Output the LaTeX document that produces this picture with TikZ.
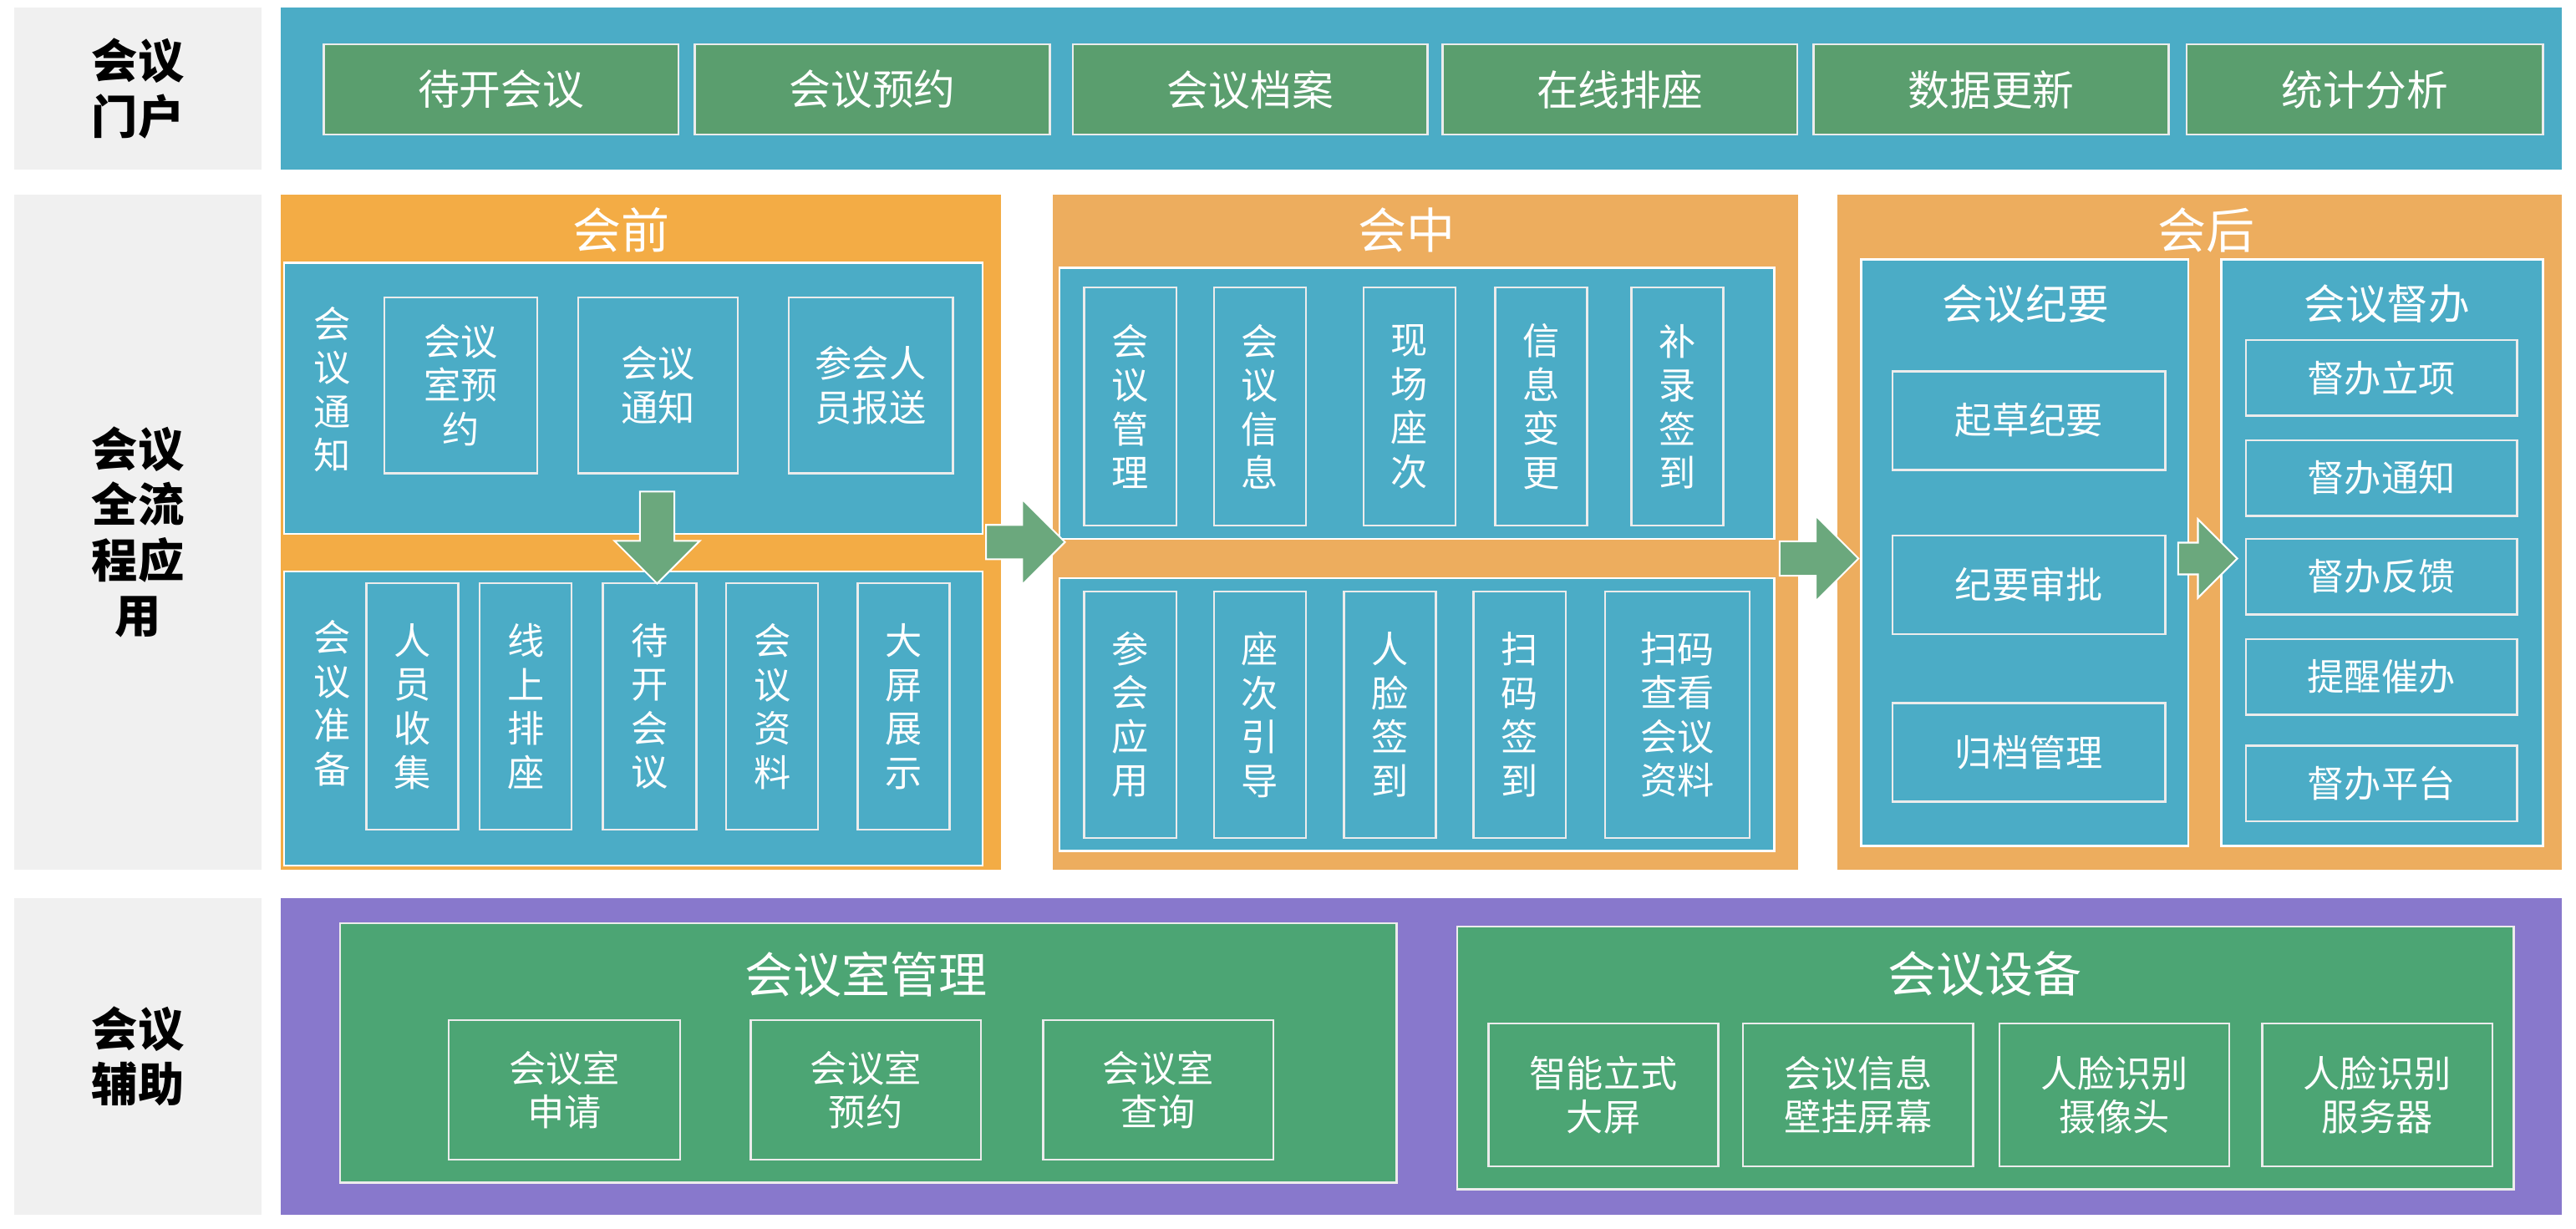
\documentclass[tikz,border=0pt]{standalone}
\usepackage{fontspec}
\setmainfont{Noto Sans CJK SC}
\usetikzlibrary{shapes.arrows}
\definecolor{lblue}{HTML}{4BACC6}
\definecolor{lgreen}{HTML}{5A9E6E}
\definecolor{dgreen}{HTML}{4CA574}
\definecolor{lorange}{HTML}{F3AC45}
\definecolor{morange}{HTML}{EDAD5E}
\definecolor{lpurple}{HTML}{8878CC}
\definecolor{lgray}{HTML}{F0F0F0}
\tikzset{
  base/.style={draw=#1, line width=1.8pt, inner sep=0pt, align=center, text=white},
  side/.style={base=white, fill=lgray, text=black, font=\fontsize{40}{48}\selectfont\bfseries},
  panel/.style={base=white, fill=lblue},
  item/.style={base=white!85!gray, fill=lgreen, font=\fontsize{36}{42}\selectfont},
  cell/.style={base=white!85!gray, fill=lblue, font=\fontsize{32}{38}\selectfont},
  title/.style={text=white, font=\fontsize{42}{46}\selectfont},
  arr/.style={single arrow, draw=white, line width=1.5pt, fill=lgreen!90!white,
    single arrow head extend=10pt, minimum height=#1, inner sep=6pt}
}
% box from corners given in reference pixels
\newcommand{\bx}[7]{\node[#6, minimum width={(#4-#2)*0.05cm}, minimum height={(#5-#3)*0.05cm}]
  (#1) at ({(#2+#4)/2},{-(#3+#5)/2}) {#7};}
\begin{document}
\begin{tikzpicture}[x=0.05cm, y=0.05cm]
\useasboundingbox (0,0) rectangle (1568,-748);
% left column
\bx{sideA}{8}{4}{160}{104}{side}{会议\\门户}
\bx{sideB}{8}{118}{160}{530}{side}{会议\\全流\\程应\\用}
\bx{sideC}{8}{546}{160}{740}{side}{会议\\辅助}
% portal row
\bx{portal}{170}{4}{1560}{104}{panel}{}
\bx{pA}{197}{27}{413}{82}{item}{待开会议}
\bx{pB}{423}{27}{639}{82}{item}{会议预约}
\bx{pC}{653}{27}{869}{82}{item}{会议档案}
\bx{pD}{878}{27}{1094}{82}{item}{在线排座}
\bx{pE}{1104}{27}{1320}{82}{item}{数据更新}
\bx{pF}{1331}{27}{1548}{82}{item}{统计分析}
% before meeting
\bx{pre}{170}{118}{610}{530}{base=white, fill=lorange}{}
\node[title] (preT) at (378,-140) {会前};
\bx{preA}{173}{160}{598}{325}{panel}{}
\node[cell, draw=none, fill=none] (preAL) at (202,-237) {会\\议\\通\\知};
\bx{preA1}{234}{181}{327}{288}{cell}{会议\\室预\\约}
\bx{preA2}{352}{181}{449}{288}{cell}{会议\\通知}
\bx{preA3}{480}{181}{580}{288}{cell}{参会人\\员报送}
\bx{preB}{173}{348}{598}{527}{panel}{}
\node[cell, draw=none, fill=none] (preBL) at (202,-428) {会\\议\\准\\备};
\bx{preB1}{223}{355}{279}{505}{cell}{人\\员\\收\\集}
\bx{preB2}{292}{355}{348}{505}{cell}{线\\上\\排\\座}
\bx{preB3}{367}{355}{424}{505}{cell}{待\\开\\会\\议}
\bx{preB4}{442}{355}{498}{505}{cell}{会\\议\\资\\料}
\bx{preB5}{522}{355}{578}{505}{cell}{大\\屏\\展\\示}
\node[arr=2.8cm, shape border rotate=270, minimum width=2.6cm] (preDown) at (400,-322) {};
% during meeting
\bx{mid}{640}{118}{1095}{530}{base=white, fill=morange}{}
\node[title] (midT) at (856,-140) {会中};
\bx{midA}{645}{163}{1080}{328}{panel}{}
\bx{midA1}{660}{175}{716}{320}{cell}{会\\议\\管\\理}
\bx{midA2}{739}{175}{795}{320}{cell}{会\\议\\信\\息}
\bx{midA3}{830}{175}{886}{320}{cell}{现\\场\\座\\次}
\bx{midA4}{910}{175}{966}{320}{cell}{信\\息\\变\\更}
\bx{midA5}{993}{175}{1049}{320}{cell}{补\\录\\签\\到}
\bx{midB}{645}{352}{1080}{518}{panel}{}
\bx{midB1}{660}{360}{716}{510}{cell}{参\\会\\应\\用}
\bx{midB2}{739}{360}{795}{510}{cell}{座\\次\\引\\导}
\bx{midB3}{818}{360}{874}{510}{cell}{人\\脸\\签\\到}
\bx{midB4}{897}{360}{953}{510}{cell}{扫\\码\\签\\到}
\bx{midB5}{977}{360}{1065}{510}{cell}{扫码\\查看\\会议\\资料}
% after meeting
\bx{post}{1118}{118}{1560}{530}{base=white, fill=morange}{}
\node[title] (postT) at (1343,-140) {会后};
\bx{postA}{1133}{158}{1332}{515}{panel}{}
\node[title, font=\fontsize{36}{40}\selectfont] (postAT) at (1233,-185) {会议纪要};
\bx{postA1}{1152}{226}{1318}{286}{cell}{起草纪要}
\bx{postA2}{1152}{326}{1318}{386}{cell}{纪要审批}
\bx{postA3}{1152}{428}{1318}{488}{cell}{归档管理}
\bx{postB}{1352}{158}{1548}{515}{panel}{}
\node[title, font=\fontsize{36}{40}\selectfont] (postBT) at (1453,-185) {会议督办};
\bx{postB1}{1367}{207}{1532}{253}{cell}{督办立项}
\bx{postB2}{1367}{268}{1532}{314}{cell}{督办通知}
\bx{postB3}{1367}{328}{1532}{374}{cell}{督办反馈}
\bx{postB4}{1367}{389}{1532}{435}{cell}{提醒催办}
\bx{postB5}{1367}{454}{1532}{500}{cell}{督办平台}
% flow arrows
\node[arr=2.4cm, minimum width=2.6cm] (goA) at (619,-330) {};
\node[arr=2.4cm, minimum width=2.6cm] (goB) at (1102,-340) {};
\node[arr=1.8cm, minimum width=2.4cm] (goC) at (1339,-340) {};
% support row
\bx{aux}{170}{546}{1560}{740}{base=white, fill=lpurple}{}
\bx{room}{207}{562}{850}{720}{base=white!85!gray, fill=dgreen}{}
\node[title] (roomT) at (527,-593) {会议室管理};
\bx{room1}{273}{621}{414}{706}{item, fill=dgreen, font=\fontsize{32}{38}\selectfont}{会议室\\申请}
\bx{room2}{457}{621}{597}{706}{item, fill=dgreen, font=\fontsize{32}{38}\selectfont}{会议室\\预约}
\bx{room3}{635}{621}{775}{706}{item, fill=dgreen, font=\fontsize{32}{38}\selectfont}{会议室\\查询}
\bx{dev}{887}{564}{1530}{724}{base=white!85!gray, fill=dgreen}{}
\node[title] (devT) at (1208,-593) {会议设备};
\bx{dev1}{906}{623}{1046}{710}{item, fill=dgreen, font=\fontsize{32}{38}\selectfont}{智能立式\\大屏}
\bx{dev2}{1061}{623}{1201}{710}{item, fill=dgreen, font=\fontsize{32}{38}\selectfont}{会议信息\\壁挂屏幕}
\bx{dev3}{1217}{623}{1357}{710}{item, fill=dgreen, font=\fontsize{32}{38}\selectfont}{人脸识别\\摄像头}
\bx{dev4}{1377}{623}{1517}{710}{item, fill=dgreen, font=\fontsize{32}{38}\selectfont}{人脸识别\\服务器}
\end{tikzpicture}
\end{document}
